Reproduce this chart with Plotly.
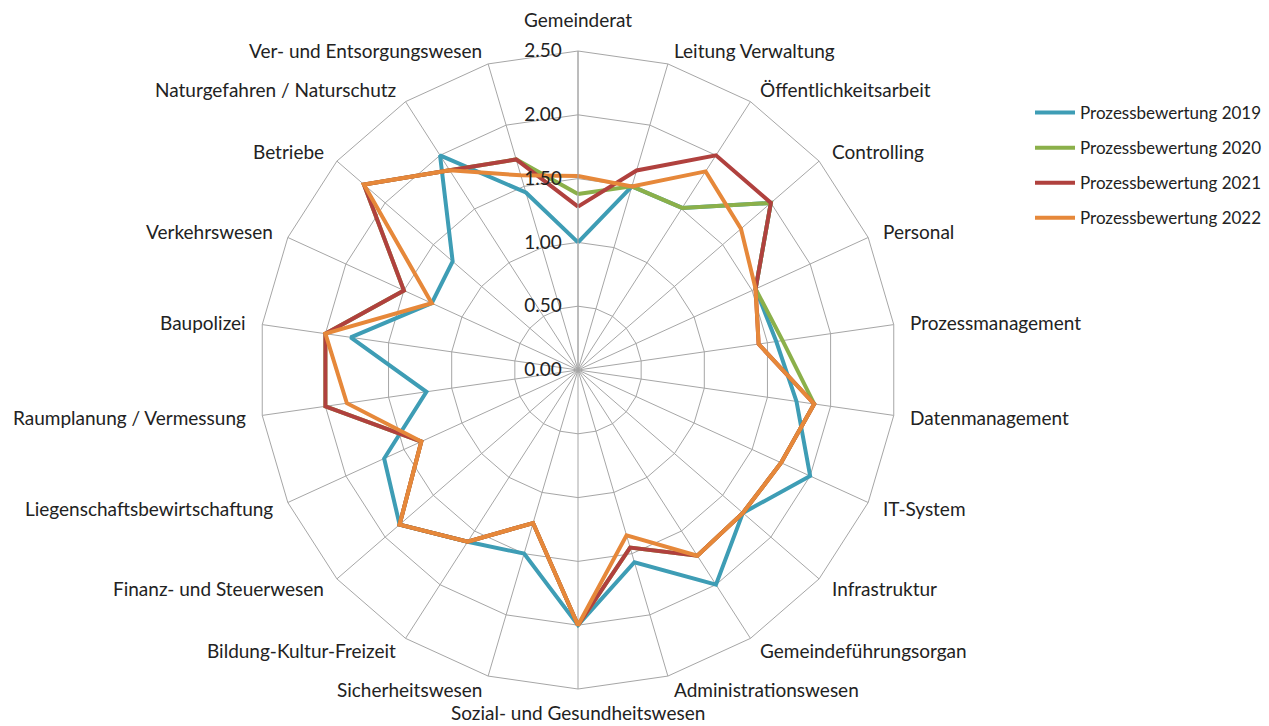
import math
import plotly.graph_objects as go

categories = [
    "Gemeinderat", "Leitung Verwaltung", "Öffentlichkeitsarbeit", "Controlling",
    "Personal", "Prozessmanagement", "Datenmanagement", "IT-System",
    "Infrastruktur", "Gemeindeführungsorgan", "Administrationswesen",
    "Sozial- und Gesundheitswesen", "Sicherheitswesen", "Bildung-Kultur-Freizeit",
    "Finanz- und Steuerwesen", "Liegenschaftsbewirtschaftung",
    "Raumplanung / Vermessung", "Baupolizei", "Verkehrswesen", "Betriebe",
    "Naturgefahren / Naturschutz", "Ver- und Entsorgungswesen",
]

werte_2019 = [1.00, 1.50, 1.51, 2.00, 1.53, 1.57, 1.73, 2.00, 1.71, 2.00, 1.57,
              2.00, 1.50, 1.60, 1.85, 1.67, 1.20, 1.80, 1.26, 1.30, 2.00, 1.45]
werte_2020 = [1.38, 1.50, 1.51, 2.00, 1.53, 1.62, 1.87, 1.75, 1.71, 1.73, 1.45,
              2.00, 1.25, 1.60, 1.85, 1.35, 2.00, 2.00, 1.50, 2.22, 1.86, 1.72]
werte_2021 = [1.28, 1.63, 2.00, 2.00, 1.53, 1.43, 1.87, 1.75, 1.71, 1.73, 1.45,
              2.00, 1.25, 1.60, 1.85, 1.35, 2.00, 2.00, 1.50, 2.22, 1.86, 1.72]
werte_2022 = [1.52, 1.50, 1.85, 1.69, 1.53, 1.43, 1.87, 1.75, 1.71, 1.73, 1.35,
              2.00, 1.25, 1.60, 1.85, 1.35, 1.83, 2.00, 1.26, 2.22, 1.86, 1.59]

serien = [
    ("Prozessbewertung 2019", werte_2019, "#3E9DB5"),
    ("Prozessbewertung 2020", werte_2020, "#8BB04A"),
    ("Prozessbewertung 2021", werte_2021, "#B0413E"),
    ("Prozessbewertung 2022", werte_2022, "#E6883A"),
]

radial_ticks = [0, 0.5, 1.0, 1.5, 2.0, 2.5]

FONT = "Lato, 'Open Sans', sans-serif"

fig = go.Figure()
for i, (name, vals, col) in enumerate(serien):
    fig.add_trace(go.Scatterpolar(
        r=vals + vals[:1],
        theta=categories + categories[:1],
        mode="lines",
        name=name,
        legendgroup=name,
        line=dict(color=col, width=4),
    ))

W, H = 1269, 726
# on-screen centre / outer radius of the radar
CX, CY, R = 578, 370, 319

# category labels placed Excel-like around the polygon
annotations = []
n = len(categories)
LABEL_GAP = 14
for i, cat in enumerate(categories):
    th = math.radians(i * 360.0 / n)
    s, c = math.sin(th), math.cos(th)
    if abs(s) < 1e-6:
        d = LABEL_GAP + 4 if c > 0 else LABEL_GAP - 4
        xa = "center"
        ya = "bottom" if c > 0 else "top"
    else:
        d = LABEL_GAP
        xa = "left" if s > 0 else "right"
        ya = "middle"
    px = CX + (R + d) * s
    py = CY - (R + d) * c
    annotations.append(dict(
        x=px / W, y=1 - py / H, xref="paper", yref="paper",
        text=cat, showarrow=False, xanchor=xa, yanchor=ya,
        font=dict(family=FONT, size=19, color="#222222"),
    ))

fig.update_layout(
    width=W, height=H,
    margin=dict(l=0, r=0, t=0, b=0),
    paper_bgcolor="white",
    plot_bgcolor="white",
    font=dict(family=FONT, size=19, color="#222222"),
    annotations=annotations,
    polar=dict(
        domain=dict(x=[(CX - R) / W, (CX + R) / W],
                    y=[(H - CY - R) / H, (H - CY + R) / H]),
        gridshape="linear",
        bgcolor="white",
        angularaxis=dict(
            rotation=90,
            direction="clockwise",
            showline=True,
            linecolor="#a6a6a6",
            linewidth=1,
            gridcolor="#a6a6a6",
            gridwidth=1,
            ticks="",
            showticklabels=False,
        ),
        radialaxis=dict(
            range=[0, 2.5],
            tickvals=radial_ticks,
            tickformat=".2f",
            angle=90,
            tickangle=90,
            side="counterclockwise",
            showline=True,
            linecolor="#a6a6a6",
            gridcolor="#a6a6a6",
            gridwidth=1,
            ticks="outside",
            ticklen=9,
            tickcolor="rgba(0,0,0,0)",
            tickfont=dict(family=FONT, size=19, color="#222222"),
        ),
    ),
    legend=dict(
        x=1030 / W, y=1 - 95 / H,
        xanchor="left", yanchor="top",
        font=dict(family=FONT, size=17, color="#222222"),
        traceorder="grouped",
        tracegroupgap=10,
        itemwidth=40,
        bgcolor="rgba(0,0,0,0)",
    ),
)

fig.write_html(
    "out.html",
    config={"displayModeBar": False},
    post_script="document.body.style.margin='0';document.body.style.padding='0';",
)
